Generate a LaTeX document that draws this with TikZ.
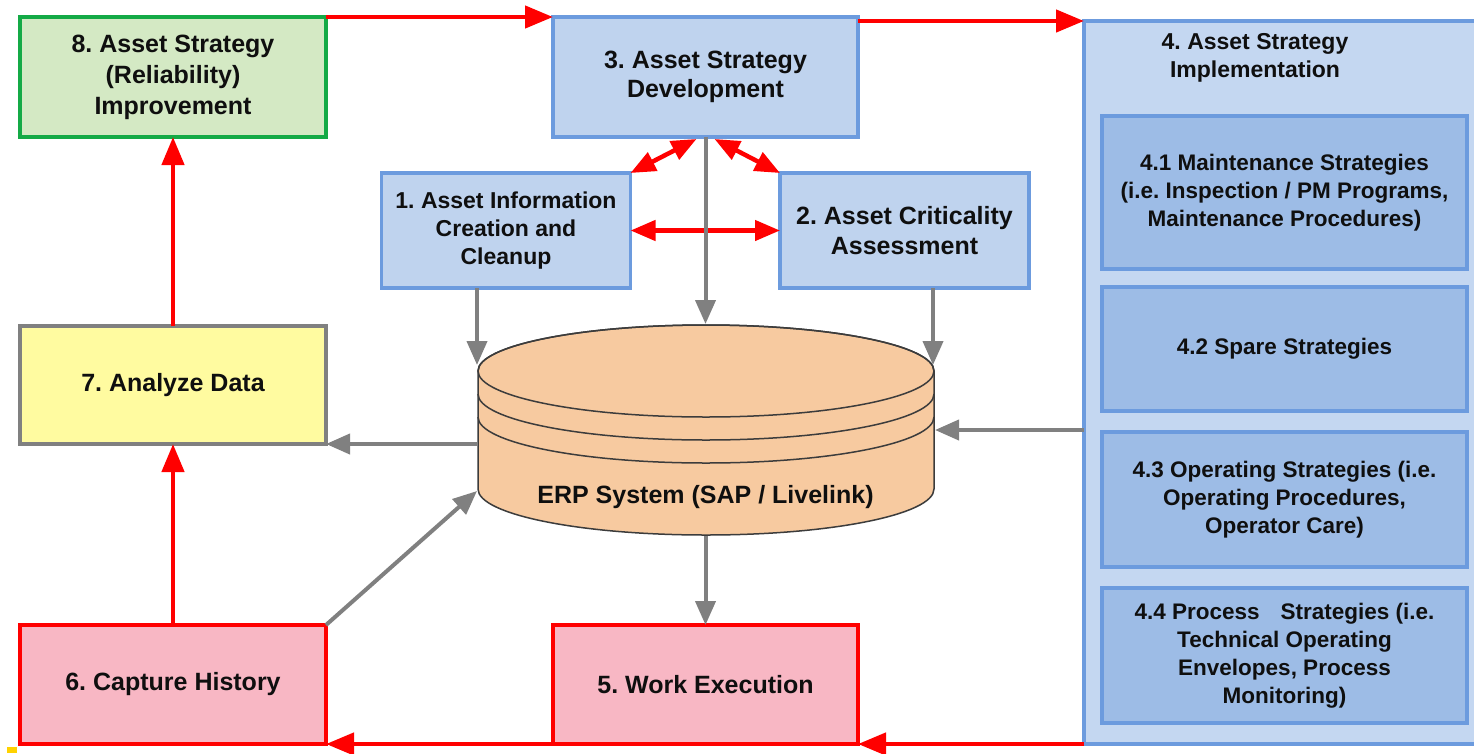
\documentclass[tikz,border=0pt]{standalone}
\usepackage{fontspec}
\setmainfont{Liberation Sans}
\usetikzlibrary{arrows.meta,calc}
\frenchspacing

\definecolor{greenB}{RGB}{20,170,70}
\definecolor{greenF}{RGB}{212,233,196}
\definecolor{blueB}{RGB}{108,155,222}
\definecolor{blueF}{RGB}{191,211,238}
\definecolor{panelF}{RGB}{196,215,241}
\definecolor{innerF}{RGB}{157,188,230}
\definecolor{yellowF}{RGB}{255,251,160}
\definecolor{grayB}{RGB}{128,128,128}
\definecolor{pinkF}{RGB}{248,183,196}
\definecolor{redB}{RGB}{255,0,0}
\definecolor{cylF}{RGB}{247,202,160}
\definecolor{cylB}{RGB}{60,60,60}
\definecolor{txt}{RGB}{15,15,15}
\definecolor{markY}{RGB}{255,210,0}

\begin{document}
\begin{tikzpicture}[x=1pt,y=-1pt,
  box/.style={rectangle, inner sep=0pt, outer sep=0pt, align=center, text=txt,
    font={\bfseries\fontsize{25}{31}\selectfont}},
  greenbox/.style={box, draw=greenB, fill=greenF, line width=4.5pt},
  bluebox/.style={box, draw=blueB, fill=blueF, line width=3.5pt},
  yellowbox/.style={box, draw=grayB, fill=yellowF, line width=4.5pt},
  pinkbox/.style={box, draw=redB, fill=pinkF, line width=4.5pt},
  panelbox/.style={rectangle, inner sep=0pt, outer sep=0pt, draw=blueB, fill=panelF, line width=3.5pt},
  subbox/.style={rectangle, inner sep=0pt, outer sep=0pt, align=center, text=txt, draw=blueB, fill=innerF,
    line width=3.5pt, minimum width=365pt,
    font={\bfseries\fontsize{22.5}{28}\selectfont}},
  redflow/.style={draw=redB, line width=4.5pt, -{Triangle[length=28pt,width=22pt]}},
  redboth/.style={draw=redB, line width=4.5pt,
    {Triangle[length=25pt,width=20pt]}-{Triangle[length=25pt,width=20pt]}},
  grayflow/.style={draw=grayB, line width=4pt, -{Triangle[length=24pt,width=20pt]}}
]
\useasboundingbox (0,0) rectangle (1474,753);
\fill[white] (0,0) rectangle (1474,753);
\clip (0,0) rectangle (1474,753);

% ---- implementation panel (runs past the right edge) ----
\node[panelbox, minimum width=416pt, minimum height=723pt] (p4) at (1292,382.5) {};
\node[align=center, text=txt, font={\bfseries\fontsize{23}{28}\selectfont}]
  (p4t) at (1255,58) {4. Asset Strategy\\Implementation};
\node[subbox, minimum height=153pt] (s41) at (1284.5,192.5)
  {4.1 Maintenance Strategies\\(i.e. Inspection / PM Programs,\\Maintenance Procedures)};
\node[subbox, minimum height=124pt] (s42) at (1284.5,349)
  {4.2 Spare Strategies};
\node[subbox, minimum height=135pt] (s43) at (1284.5,499.5)
  {4.3 Operating Strategies (i.e.\\Operating Procedures,\\Operator Care)};
\node[subbox, minimum height=135pt] (s44) at (1284.5,655.5)
  {4.4 Process\hspace{21pt}Strategies (i.e.\\Technical Operating\\Envelopes, Process\\Monitoring)};

% ---- process boxes ----
\node[greenbox, minimum width=306pt, minimum height=120pt] (b8) at (173,77)
  {8. Asset Strategy\\(Reliability)\\Improvement};
\node[bluebox, minimum width=305pt, minimum height=120pt,
  font={\bfseries\fontsize{25}{29}\selectfont}] (b3) at (705.5,77)
  {3. Asset Strategy\\Development};
\node[bluebox, minimum width=249pt, minimum height=115pt,
  font={\bfseries\fontsize{23}{28}\selectfont}] (b1) at (506,230.5)
  {1. Asset Information\\Creation and\\Cleanup};
\node[bluebox, minimum width=249pt, minimum height=115pt,
  font={\bfseries\fontsize{25}{30}\selectfont}] (b2) at (904.5,230.5)
  {2. Asset Criticality\\Assessment};
\node[yellowbox, minimum width=306pt, minimum height=118pt] (b7) at (173,385)
  {7. Analyze Data};
\node[pinkbox, minimum width=306pt, minimum height=119pt] (b6) at (173,684.5)
  {6. Capture History};
\node[pinkbox, minimum width=305pt, minimum height=119pt] (b5) at (705.5,684.5)
  {5. Work Execution};

% ---- ERP database cylinder ----
\path[fill=cylF, draw=cylB, line width=1.5pt]
  (478,371) -- (478,489)
  arc[start angle=180, end angle=360, x radius=228pt, y radius=46pt]
  -- (934,371)
  arc[start angle=0, end angle=180, x radius=228pt, y radius=46pt] -- cycle;
\draw[cylB, line width=1.5pt] (706,371) ellipse[x radius=228pt, y radius=46pt];
\draw[cylB, line width=1.5pt] (478,394)
  arc[start angle=180, end angle=360, x radius=228pt, y radius=46pt];
\draw[cylB, line width=1.5pt] (478,417)
  arc[start angle=180, end angle=360, x radius=228pt, y radius=46pt];
\node[text=txt, font={\bfseries\fontsize{25}{30}\selectfont}] (erp) at (705.5,497)
  {ERP System (SAP / Livelink)};

% connector ends on the cylinder outline
\coordinate (ctop)   at (705.5,324);
\coordinate (c1in)   at (477,365);
\coordinate (c2in)   at (933,365);
\coordinate (cright) at (935,430);
\coordinate (cleft)  at (478,444);
\coordinate (cdiag)  at (477,491);
\coordinate (cbot)   at (705.5,536);

% ---- main cycle (red) ----
\draw[redflow] (b8.north east) -- (b3.north west);
\draw[redflow] (b3.east |- p4.north west) -- (p4.north west);
\draw[redflow] (p4.south west) -- (b5.south east);
\draw[redflow] (b5.south west) -- (b6.south east);
\draw[redflow] (b6.north) -- (b7.south);
\draw[redflow] (b7.north) -- (b8.south);

% ---- mutual links around development ----
\draw[redboth] ($(b3.south)+(-9,2)$) -- (b1.north east);
\draw[redboth] ($(b3.south)+(9,2)$) -- (b2.north west);
\draw[redboth] (b1.east) -- (b2.west);

% ---- data flows (gray) ----
\draw[grayflow] (b3.south) -- (ctop);
\draw[grayflow] (b1.south -| c1in) -- (c1in);
\draw[grayflow] (b2.south -| c2in) -- (c2in);
\draw[grayflow] (p4.west |- cright) -- (cright);
\draw[grayflow] (cleft) -- (b7.south east);
\draw[grayflow] (b6.north east) -- (cdiag);
\draw[grayflow] (cbot) -- (b5.north);

% small corner mark
\fill[markY] (7,747) rectangle (17,753);
\end{tikzpicture}
\end{document}
